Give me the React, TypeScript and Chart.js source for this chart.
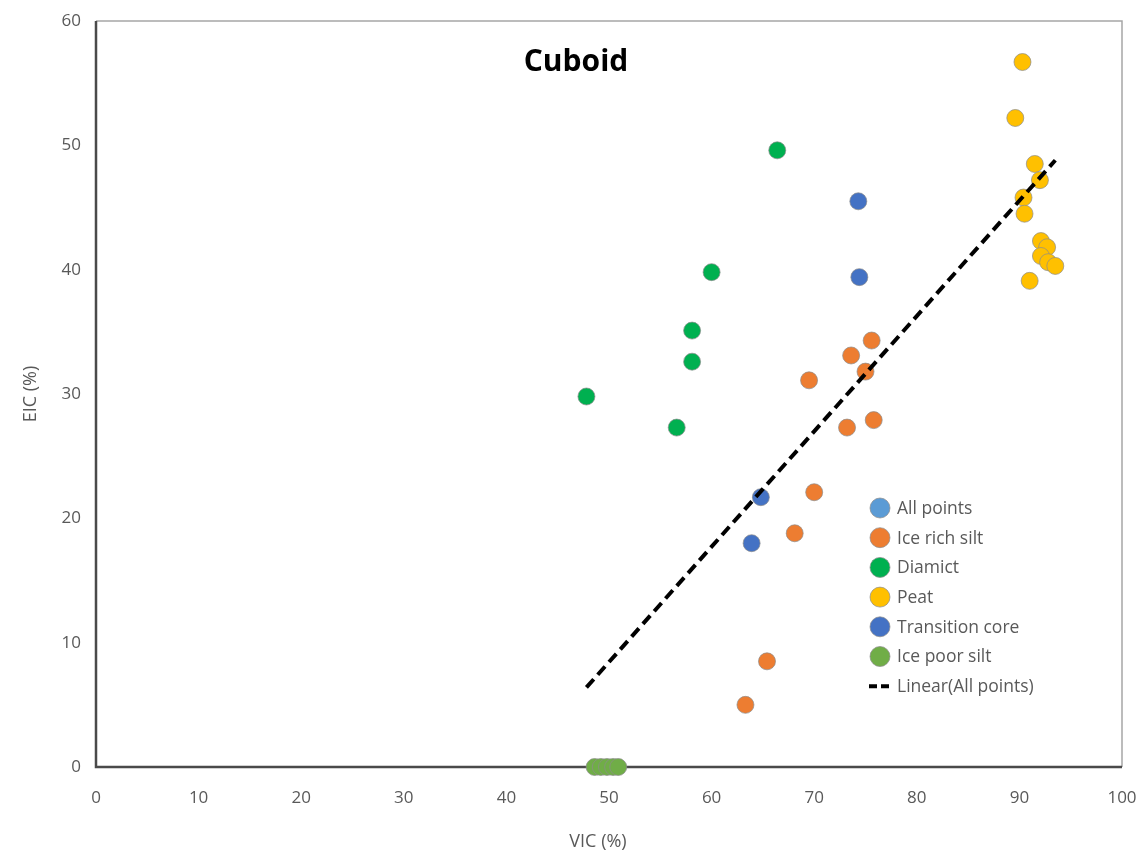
import React, { useEffect, useRef } from "react";
import { Chart, registerables } from "chart.js";

Chart.register(...registerables);

const iceRichSiltX = [75.6, 73.6, 75.0, 69.5, 73.2, 75.8, 70.0, 68.1, 65.4, 63.3];
const iceRichSiltY = [34.3, 33.1, 31.8, 31.1, 27.3, 27.9, 22.1, 18.8, 8.5, 5.0];

const diamictX = [66.4, 60.0, 58.1, 58.1, 47.8, 56.6];
const diamictY = [49.6, 39.8, 35.1, 32.6, 29.8, 27.3];

const peatX = [90.3, 89.6, 91.5, 92.0, 90.4, 90.5, 92.1, 92.7, 92.1, 92.8, 93.5, 91.0];
const peatY = [56.7, 52.2, 48.5, 47.2, 45.8, 44.5, 42.3, 41.8, 41.1, 40.6, 40.3, 39.1];

const transitionX = [74.3, 74.4, 64.8, 63.9];
const transitionY = [45.5, 39.4, 21.7, 18.0];

const icePoorSiltX = [48.6, 49.2, 49.8, 50.4, 50.9];
const icePoorSiltY = [0, 0, 0, 0, 0];

const trendX = [47.8, 93.5];
const trendY = [6.4, 48.8];

const xTicks = [0, 10, 20, 30, 40, 50, 60, 70, 80, 90, 100];
const yTicks = [0, 10, 20, 30, 40, 50, 60];

const seriesNames = ["All points", "Ice rich silt", "Diamict", "Peat", "Transition core", "Ice poor silt", "Linear(All points)"];
const seriesColors = ["#5B9BD5", "#ED7D31", "#00B050", "#FFC000", "#4472C4", "#70AD47", "#000000"];

const FONT = "'Open Sans', 'Noto Sans', sans-serif";

function pts(xs: number[], ys: number[]) {
  return xs.map((x, i) => ({ x, y: ys[i] }));
}

const overlayPlugin = {
  id: "overlay",
  beforeDatasetsDraw(chart: any) {
    const { ctx, chartArea: a } = chart;
    ctx.save();
    ctx.strokeStyle = "#a6a6a6";
    ctx.lineWidth = 1.5;
    ctx.beginPath();
    ctx.moveTo(a.left, a.top);
    ctx.lineTo(a.right, a.top);
    ctx.lineTo(a.right, a.bottom);
    ctx.stroke();
    ctx.strokeStyle = "#4a4a4a";
    ctx.lineWidth = 2.5;
    ctx.beginPath();
    ctx.moveTo(a.left, a.top);
    ctx.lineTo(a.left, a.bottom);
    ctx.lineTo(a.right, a.bottom);
    ctx.stroke();
    ctx.restore();
  },
  afterDraw(chart: any) {
    const { ctx } = chart;
    ctx.save();
    // title
    ctx.fillStyle = "#000000";
    ctx.font = `bold 30px ${FONT}`;
    ctx.textAlign = "center";
    ctx.textBaseline = "middle";
    ctx.fillText("Cuboid", 576, 62);
    // axis titles
    ctx.fillStyle = "#595959";
    ctx.font = `18px ${FONT}`;
    ctx.fillText("VIC (%)", 598, 842);
    ctx.save();
    ctx.translate(31, 394);
    ctx.rotate(-Math.PI / 2);
    ctx.fillText("EIC (%)", 0, 0);
    ctx.restore();
    // legend
    const lx = 880;
    const ly0 = 508;
    const step = 29.7;
    ctx.textAlign = "left";
    ctx.font = `17.5px ${FONT}`;
    seriesNames.forEach((name, i) => {
      const y = ly0 + i * step;
      if (i === seriesNames.length - 1) {
        ctx.strokeStyle = "#000000";
        ctx.lineWidth = 4;
        ctx.setLineDash([8, 4]);
        ctx.beginPath();
        ctx.moveTo(lx - 11, y);
        ctx.lineTo(lx + 11, y);
        ctx.stroke();
        ctx.setLineDash([]);
      } else {
        ctx.fillStyle = seriesColors[i];
        ctx.strokeStyle = "rgba(140,140,140,0.7)";
        ctx.lineWidth = 1;
        ctx.beginPath();
        ctx.arc(lx, y, 10, 0, Math.PI * 2);
        ctx.fill();
        ctx.stroke();
      }
      ctx.fillStyle = "#595959";
      ctx.fillText(name, lx + 17, y + 1);
    });
    ctx.restore();
  },
};

export default function App() {
  const ref = useRef<HTMLCanvasElement | null>(null);

  useEffect(() => {
    if (!ref.current) return;
    const mk = (label: string, color: string, data: any[], clip: any = undefined) => ({
      type: "scatter" as const,
      label,
      data,
      backgroundColor: color,
      borderColor: "rgba(140,140,140,0.7)",
      borderWidth: 1,
      pointRadius: 8.5,
      pointHoverRadius: 8.5,
      clip,
    });
    const chart = new Chart(ref.current, {
      type: "scatter",
      data: {
        datasets: [
          {
            type: "line" as const,
            label: seriesNames[6],
            data: pts(trendX, trendY),
            borderColor: "#000000",
            borderWidth: 4,
            borderDash: [11, 6],
            pointRadius: 0,
            fill: false,
            order: 0,
          } as any,
          mk(seriesNames[0], seriesColors[0], []),
          mk(seriesNames[1], seriesColors[1], pts(iceRichSiltX, iceRichSiltY)),
          mk(seriesNames[2], seriesColors[2], pts(diamictX, diamictY)),
          mk(seriesNames[3], seriesColors[3], pts(peatX, peatY)),
          mk(seriesNames[4], seriesColors[4], pts(transitionX, transitionY)),
          mk(seriesNames[5], seriesColors[5], pts(icePoorSiltX, icePoorSiltY), false),
        ],
      },
      options: {
        animation: false,
        responsive: false,
        maintainAspectRatio: false,
        layout: { padding: { left: 0, right: 21, top: 21, bottom: 0 } },
        plugins: {
          legend: { display: false },
          title: { display: false },
          tooltip: { enabled: false },
        },
        scales: {
          x: {
            type: "linear",
            min: 0,
            max: 100,
            afterBuildTicks: (s: any) => {
              s.ticks = xTicks.map((v) => ({ value: v }));
            },
            afterFit: (s: any) => {
              s.height = 88;
              s.paddingLeft = 0;
              s.paddingRight = 0;
            },
            grid: { display: false, drawTicks: false },
            border: { display: false },
            ticks: {
              color: "#595959",
              font: { family: FONT, size: 17 },
              padding: 21,
              maxRotation: 0,
            },
          },
          y: {
            type: "linear",
            min: 0,
            max: 60,
            afterBuildTicks: (s: any) => {
              s.ticks = yTicks.map((v) => ({ value: v }));
            },
            afterFit: (s: any) => {
              s.width = 96;
              s.paddingTop = 0;
              s.paddingBottom = 0;
            },
            grid: { display: false, drawTicks: false },
            border: { display: false },
            ticks: {
              color: "#595959",
              font: { family: FONT, size: 17 },
              padding: 15,
            },
          },
        },
      },
      plugins: [overlayPlugin],
    });
    return () => chart.destroy();
  }, []);

  return (
    <div style={{ position: "fixed", left: 0, top: 0, width: 1143, height: 855, background: "#fff" }}>
      <canvas ref={ref} width={1143} height={855} style={{ width: 1143, height: 855 }} />
    </div>
  );
}
